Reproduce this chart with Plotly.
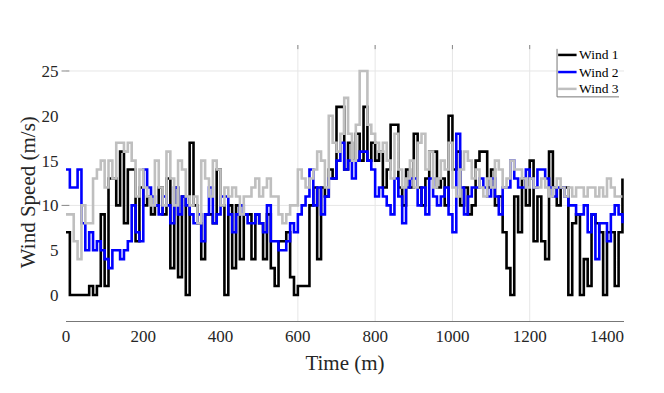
import plotly.graph_objects as go

time_min = list(range(0, 1450, 10))

wind1 = [7, 0, 0, 0, 0, 0, 1, 0, 1, 9,
         1, 13, 13, 10, 16, 8, 14, 14, 6, 12,
         10, 11, 9, 10, 12, 9, 13, 3, 12, 2,
         11, 0, 17, 10, 8, 4, 9, 9, 8, 14,
         10, 0, 10, 3, 10, 4, 9, 9, 4, 9,
         8, 4, 9, 3, 1, 6, 6, 7, 2, 0,
         1, 1, 1, 10, 12, 4, 12, 11, 14, 13,
         21, 21, 14, 17, 15, 18, 15, 21, 15, 17,
         15, 16, 12, 14, 19, 19, 12, 10, 14, 12,
         18, 12, 10, 13, 16, 16, 12, 13, 10, 20,
         14, 16, 10, 12, 9, 10, 15, 16, 16, 12,
         14, 10, 11, 7, 3, 0, 11, 7, 13, 10,
         15, 6, 11, 6, 4, 16, 12, 10, 12, 12,
         0, 8, 9, 0, 4, 1, 9, 8, 7, 0,
         7, 7, 1, 7, 13]

wind2 = [14, 12, 12, 14, 8, 5, 7, 5, 6, 5,
         4, 3, 5, 5, 4, 5, 6, 10, 7, 6,
         14, 12, 11, 10, 9, 11, 10, 8, 12, 9,
         11, 10, 9, 8, 9, 6, 9, 12, 8, 9,
         11, 11, 9, 7, 9, 10, 9, 8, 8, 9,
         8, 7, 10, 6, 6, 5, 5, 6, 8, 7,
         9, 10, 11, 14, 10, 12, 9, 11, 13, 13,
         15, 17, 14, 15, 13, 15, 16, 16, 15, 14,
         11, 12, 11, 10, 9, 13, 11, 8, 12, 13,
         13, 10, 12, 9, 13, 11, 10, 11, 12, 9,
         7, 18, 12, 9, 11, 12, 12, 13, 12, 11,
         13, 11, 9, 12, 12, 15, 13, 12, 12, 14,
         13, 12, 14, 14, 13, 12, 11, 12, 12, 11,
         10, 10, 9, 9, 10, 7, 9, 4, 8, 8,
         6, 9, 10, 9, 8]

wind3 = [9, 9, 6, 4, 10, 8, 8, 13, 14, 15,
         12, 15, 13, 17, 17, 16, 17, 15, 11, 14,
         12, 11, 10, 15, 12, 10, 16, 13, 10, 15,
         14, 11, 10, 11, 8, 15, 13, 11, 15, 14,
         10, 12, 11, 12, 11, 9, 11, 11, 12, 13,
         11, 12, 13, 11, 11, 9, 8, 9, 10, 10,
         14, 13, 12, 13, 14, 16, 15, 12, 20, 17,
         16, 18, 22, 18, 15, 19, 25, 25, 19, 18,
         17, 16, 17, 15, 13, 18, 14, 12, 13, 15,
         12, 17, 18, 14, 16, 12, 13, 15, 14, 17,
         12, 11, 14, 16, 15, 13, 14, 12, 11, 13,
         12, 15, 14, 12, 13, 15, 14, 14, 13, 12,
         13, 12, 12, 13, 12, 11, 12, 13, 12, 11,
         12, 11, 12, 12, 11, 12, 12, 11, 12, 11,
         13, 12, 11, 11, 11]

series_names = ["Wind 1", "Wind 2", "Wind 3"]
series_colors = ["#000000", "#0000ff", "#bfbfbf"]
x_ticks = [0, 200, 400, 600, 800, 1000, 1200, 1400]
y_ticks = [0, 5, 10, 15, 20, 25]
x_grid = [600, 800, 1000, 1200]
y_grid = [10, 25]

FONT = "Liberation Serif, Times New Roman, serif"
XR = [0, 1444]
YR = [-2.9, 27.9]

fig = go.Figure()
for name, vals, col in zip(series_names, [wind1, wind2, wind3], series_colors):
    fig.add_trace(go.Scatter(x=time_min, y=vals, mode="lines", name=name,
                             showlegend=False,
                             line=dict(color=col, width=2.6, shape="hv")))

shapes = []
annotations = []
grid_col = "#e6e6e6"
for gx in x_grid:
    shapes.append(dict(type="line", xref="x", yref="paper", x0=gx, x1=gx, y0=0, y1=1,
                       line=dict(color=grid_col, width=1), layer="below"))
    shapes.append(dict(type="line", xref="x", yref="paper", x0=gx, x1=gx, y0=0.985, y1=1,
                       line=dict(color="#888888", width=1), layer="below"))
for gy in y_grid:
    shapes.append(dict(type="line", xref="paper", yref="y", x0=0, x1=1, y0=gy, y1=gy,
                       line=dict(color=grid_col, width=1), layer="below"))
    shapes.append(dict(type="line", xref="paper", yref="y", x0=-0.008, x1=0.006, y0=gy, y1=gy,
                       line=dict(color="#888888", width=1), layer="below"))

# manual legend (box with left and bottom edges visible)
lx0, lx1, ly0, ly1 = 0.880, 0.991, 0.812, 0.986
shapes.append(dict(type="rect", xref="paper", yref="paper", x0=lx0, x1=lx1, y0=ly0, y1=ly1,
                   line=dict(width=0), fillcolor="white"))
shapes.append(dict(type="line", xref="paper", yref="paper", x0=lx0, x1=lx0, y0=ly0, y1=ly1,
                   line=dict(color="#777777", width=1)))
shapes.append(dict(type="line", xref="paper", yref="paper", x0=lx0, x1=lx1, y0=ly0, y1=ly0,
                   line=dict(color="#777777", width=1)))
row_y = [0.964, 0.902, 0.841]
for name, col, ry in zip(series_names, series_colors, row_y):
    shapes.append(dict(type="line", xref="paper", yref="paper", x0=0.882, x1=0.915,
                       y0=ry, y1=ry, line=dict(color=col, width=2.5)))
    annotations.append(dict(xref="paper", yref="paper", x=0.915, y=ry, text=name,
                            showarrow=False, xanchor="left", yanchor="middle",
                            font=dict(family=FONT, size=13.5, color="#000000")))

# y-axis title
annotations.append(dict(xref="paper", yref="paper", x=-0.068, y=0.467,
                        text="Wind Speed (m/s)", textangle=-90, showarrow=False,
                        xanchor="center", yanchor="middle",
                        font=dict(family=FONT, size=21, color="#262626")))

fig.update_layout(
    width=664, height=393,
    margin=dict(l=58, r=48, t=37, b=80, autoexpand=False),
    paper_bgcolor="white", plot_bgcolor="white",
    font=dict(family=FONT, color="#262626"),
    showlegend=False,
    shapes=shapes,
    annotations=annotations,
    xaxis=dict(range=XR, tickvals=x_ticks, ticktext=[str(v) for v in x_ticks],
               automargin=False,
               showgrid=False, zeroline=False, showline=True, linecolor="#777777",
               linewidth=1, ticks="", tickfont=dict(family=FONT, size=17, color="#262626"),
               title=dict(text="Time (m)", font=dict(family=FONT, size=21, color="#262626"),
                          standoff=9)),
    yaxis=dict(range=YR, tickvals=y_ticks, ticktext=[str(v) for v in y_ticks],
               automargin=False,
               showgrid=False, zeroline=False, showline=False,
               ticks="outside", ticklen=3, tickcolor="rgba(0,0,0,0)",
               tickfont=dict(family=FONT, size=17, color="#262626")),
)

fig.write_html("out.html")
